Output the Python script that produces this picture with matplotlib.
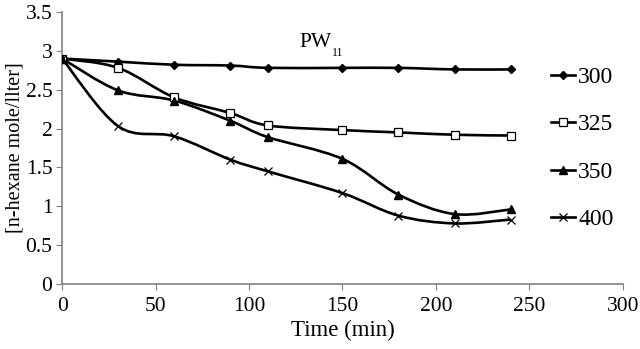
import numpy as np
import matplotlib
matplotlib.use("Agg")
import matplotlib.pyplot as plt
from matplotlib.path import Path
from matplotlib.patches import PathPatch
from matplotlib.lines import Line2D

plt.rcParams['font.family'] = ['Liberation Serif', 'DejaVu Serif']

time_min = [0, 30, 60, 90, 110, 150, 180, 210, 240]
series_labels = ['300', '325', '350', '400']
conc_300 = [2.90, 2.86, 2.82, 2.81, 2.78, 2.78, 2.78, 2.76, 2.76]
conc_325 = [2.90, 2.78, 2.40, 2.20, 2.04, 1.98, 1.95, 1.92, 1.91]
conc_350 = [2.90, 2.49, 2.36, 2.10, 1.89, 1.61, 1.15, 0.90, 0.96]
conc_400 = [2.90, 2.03, 1.90, 1.60, 1.45, 1.17, 0.88, 0.78, 0.83]

x_ticks = [0, 50, 100, 150, 200, 250, 300]
y_ticks = [0, 0.5, 1, 1.5, 2, 2.5, 3, 3.5]
y_tick_labels = ['0', '0.5', '1', '1.5', '2', '2.5', '3', '3.5']

styles = [
    dict(marker='D', ms=4, mfc='black', mec='black'),
    dict(marker='s', ms=6, mfc='white', mec='black', mew=0.9),
    dict(marker='^', ms=6, mfc='black', mec='black'),
    dict(marker='x', ms=6, mfc='black', mec='black', mew=0.9),
]


def smooth_path(x, y):
    # Excel-like smoothed line: cubic Bezier through the points
    pts = np.column_stack([x, y]).astype(float)
    n = len(pts)
    verts = [pts[0]]
    codes = [Path.MOVETO]
    for i in range(n - 1):
        p0 = pts[i - 1] if i > 0 else pts[i]
        p1 = pts[i]
        p2 = pts[i + 1]
        p3 = pts[i + 2] if i + 2 < n else pts[i + 1]
        c1 = p1 + (p2 - p0) / 6.0
        c2 = p2 - (p3 - p1) / 6.0
        verts += [c1, c2, p2]
        codes += [Path.CURVE4] * 3
    return Path(verts, codes)


fig = plt.figure(figsize=(6.4, 3.49), dpi=100)
ax = fig.add_axes([0.097, 0.186, 0.876, 0.780])

handles = []
for y, st, lab in zip([conc_300, conc_325, conc_350, conc_400], styles, series_labels):
    patch = PathPatch(smooth_path(time_min, y), fill=False, lw=1.9, ec='black')
    ax.add_patch(patch)
    ax.plot(time_min, y, ls='none', zorder=3, **st)
    handles.append(Line2D([], [], color='black', lw=1.9, **st))

ax.set_xlim(0, 300)
ax.set_ylim(0, 3.5)
ax.set_xticks(x_ticks)
ax.set_yticks(y_ticks)
ax.set_yticklabels(y_tick_labels)
ax.tick_params(labelsize=15.5, direction='out', length=4, color='#808080', pad=3)
ax.tick_params(axis='x', pad=5)
for s in ['top', 'right']:
    ax.spines[s].set_visible(False)
for s in ['left', 'bottom']:
    ax.spines[s].set_color('#808080')
    ax.spines[s].set_linewidth(1.2)

ax.set_xlabel('Time (min)', fontsize=16.5, labelpad=3)
ax.set_ylabel('[n-hexane mole/llter]', fontsize=14.5, labelpad=1)

# title-like label with a small subscript
pw = ax.text(127, 3.05, 'PW', fontsize=15.5, ha='left', va='baseline')
ax.annotate('11', xy=(1, 0), xycoords=pw, xytext=(0.5, -3), textcoords='offset points',
            fontsize=8.5, ha='left', va='baseline')

ax.legend(handles, series_labels, loc='upper left', bbox_to_anchor=(0.872, 0.80),
          frameon=False, fontsize=17, handlelength=1.0, handletextpad=0.15,
          labelspacing=1.1, borderpad=0, borderaxespad=0)

fig.savefig('out.png', dpi=100)
